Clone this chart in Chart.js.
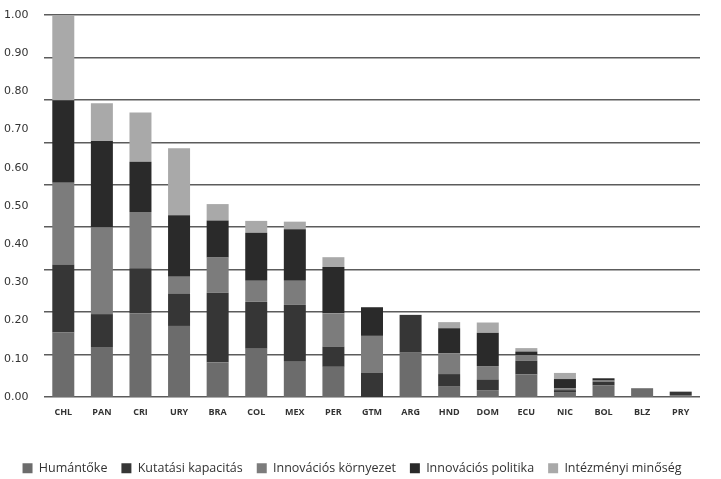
<!DOCTYPE html>
<html lang="hu">
<head>
<meta charset="UTF-8" />
<title>Innovációs index</title>
<script src="https://cdn.jsdelivr.net/npm/chart.js"></script>
<style>
  html, body { margin: 0; padding: 0; background: #fff; }
  #wrap { width: 721px; height: 479px; }
</style>
</head>
<body>
<div id="wrap"><canvas id="chart"></canvas></div>
<script>
  // Countries, in the order shown
  const countries = ['CHL', 'PAN', 'CRI', 'URY', 'BRA', 'COL', 'MEX', 'PER', 'GTM', 'ARG', 'HND', 'DOM', 'ECU', 'NIC', 'BOL', 'BLZ', 'PRY'];

  // Component values (stacked bottom to top)
  const humantoke    = [0.169, 0.129, 0.219, 0.186, 0.090, 0.126, 0.092, 0.079, 0.000, 0.116, 0.027, 0.018, 0.059, 0.013, 0.030, 0.023, 0.005];
  const kutatasi     = [0.178, 0.088, 0.118, 0.085, 0.183, 0.123, 0.149, 0.053, 0.064, 0.099, 0.033, 0.028, 0.036, 0.005, 0.010, 0.000, 0.009];
  const kornyezet    = [0.214, 0.227, 0.147, 0.044, 0.092, 0.055, 0.063, 0.087, 0.096, 0.000, 0.054, 0.035, 0.015, 0.005, 0.003, 0.000, 0.000];
  const politika     = [0.216, 0.226, 0.132, 0.161, 0.097, 0.126, 0.135, 0.121, 0.075, 0.000, 0.066, 0.087, 0.009, 0.024, 0.006, 0.000, 0.000];
  const intezmenyi   = [0.223, 0.099, 0.129, 0.175, 0.043, 0.031, 0.020, 0.026, 0.000, 0.000, 0.016, 0.027, 0.009, 0.016, 0.000, 0.000, 0.000];

  const yTicks = [0, 0.1, 0.2, 0.3, 0.4, 0.5, 0.6, 0.7, 0.8, 0.9, 1.0];
  // the gridlines in the original are not at the label positions: 9 equal bands
  const gridTicks = [0, 1/9, 2/9, 3/9, 4/9, 5/9, 6/9, 7/9, 8/9, 1];

  const ds = (label, data, color) => ({
    label: label,
    data: data,
    backgroundColor: color,
    borderWidth: 0,
    barPercentage: 0.57,
    categoryPercentage: 1.0
  });

  // fixed legend height so it sits where the original one does
  const legendHeight = {
    id: 'legendHeight',
    beforeInit(chart) {
      const fit = chart.legend.fit;
      chart.legend.fit = function () {
        fit.bind(chart.legend)();
        this.height = 31;
      };
    }
  };

  new Chart(document.getElementById('chart'), {
    type: 'bar',
    data: {
      labels: countries,
      datasets: [
        ds('Humántőke', humantoke, '#6c6c6c'),
        ds('Kutatási kapacitás', kutatasi, '#363636'),
        ds('Innovációs környezet', kornyezet, '#7c7c7c'),
        ds('Innovációs politika', politika, '#2a2a2a'),
        ds('Intézményi minőség', intezmenyi, '#a9a9a9')
      ]
    },
    plugins: [legendHeight],
    options: {
      responsive: true,
      maintainAspectRatio: false,
      animation: false,
      layout: { padding: { top: 15, right: 21, bottom: 0, left: 4 } },
      plugins: {
        tooltip: { enabled: false },
        legend: {
          position: 'bottom',
          labels: {
            boxWidth: 10,
            boxHeight: 10,
            padding: 14,
            color: '#333',
            font: { family: 'Open Sans', size: 12.5 }
          }
        }
      },
      scales: {
        x: {
          stacked: true,
          grid: { display: false },
          border: { display: false },
          ticks: {
            color: '#333',
            padding: 2,
            font: { family: 'Open Sans', size: 9, weight: 'bold' }
          },
          afterFit: s => { s.height = 51; }
        },
        y: {
          stacked: true,
          min: 0,
          max: 1,
          afterBuildTicks: s => { s.ticks = yTicks.map(v => ({ value: v })); },
          grid: { display: false },
          border: { display: false },
          ticks: {
            color: '#333',
            crossAlign: 'far',
            padding: 4,
            font: { family: 'DejaVu Sans', size: 11 },
            callback: v => v.toFixed(2)
          },
          afterFit: s => { s.width = 40; }
        },
        y2: {
          position: 'right',
          min: 0,
          max: 1,
          afterBuildTicks: s => { s.ticks = gridTicks.map(v => ({ value: v })); },
          grid: { color: '#5c5c5c', lineWidth: 1.6, drawTicks: false },
          border: { display: false },
          ticks: { display: false },
          afterFit: s => { s.width = 0; }
        }
      }
    }
  });
</script>
</body>
</html>
